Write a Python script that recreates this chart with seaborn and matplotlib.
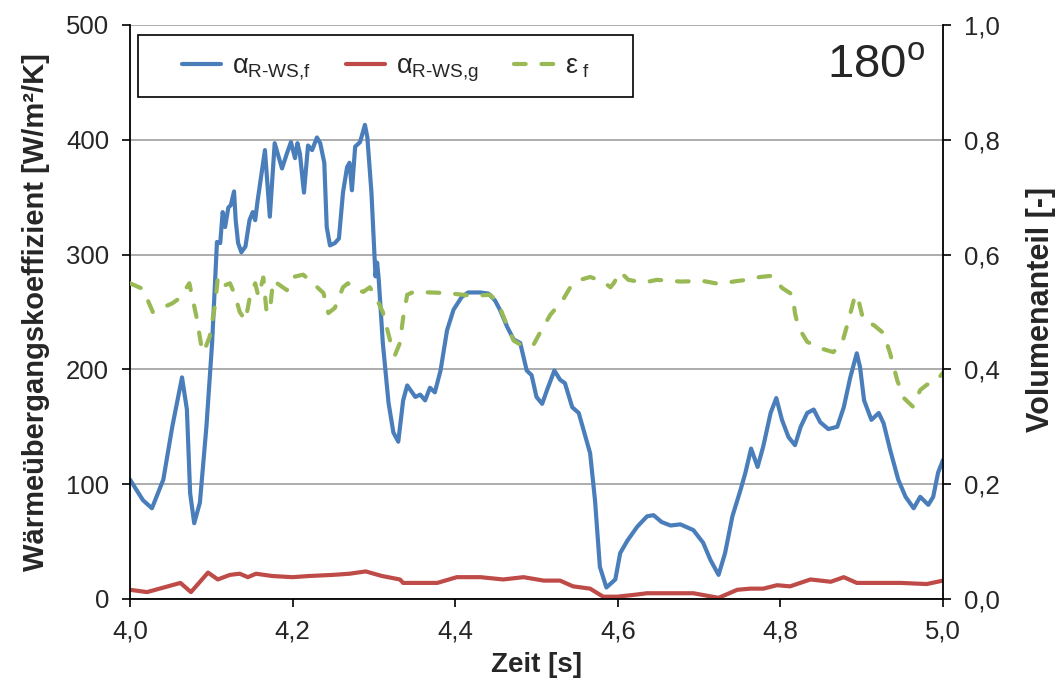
import matplotlib
matplotlib.use("Agg")
import matplotlib.pyplot as plt
from matplotlib.patches import Rectangle
from matplotlib.lines import Line2D
import seaborn as sns
import numpy as np
import pandas as pd

# alpha_R-WS,f  (left axis, W/m2/K)
t_f = [4.000, 4.016, 4.027, 4.041, 4.052, 4.064, 4.070, 4.074, 4.079, 4.086,
       4.094, 4.101, 4.106, 4.107, 4.111, 4.114, 4.117, 4.121, 4.124, 4.128,
       4.130, 4.133, 4.137, 4.142, 4.147, 4.151, 4.154, 4.157, 4.166, 4.172,
       4.178, 4.187, 4.193, 4.198, 4.203, 4.206, 4.209, 4.214, 4.219, 4.224,
       4.230, 4.234, 4.239, 4.242, 4.246, 4.252, 4.257, 4.262, 4.267, 4.270,
       4.273, 4.277, 4.283, 4.289, 4.292, 4.297, 4.302, 4.304, 4.306, 4.311,
       4.318, 4.324, 4.330, 4.336, 4.341, 4.351, 4.357, 4.363, 4.369, 4.375,
       4.382, 4.390, 4.398, 4.408, 4.416, 4.431, 4.441, 4.449, 4.455, 4.464,
       4.472, 4.480, 4.488, 4.494, 4.500, 4.507, 4.513, 4.522, 4.529, 4.535,
       4.544, 4.552, 4.558, 4.566, 4.572, 4.578, 4.586, 4.597, 4.603, 4.612,
       4.624, 4.636, 4.644, 4.654, 4.665, 4.677, 4.693, 4.705, 4.714, 4.724,
       4.732, 4.741, 4.751, 4.757, 4.764, 4.772, 4.779, 4.788, 4.795, 4.802,
       4.810, 4.818, 4.825, 4.833, 4.841, 4.849, 4.859, 4.870, 4.878, 4.886,
       4.894, 4.898, 4.903, 4.912, 4.921, 4.927, 4.935, 4.945, 4.954, 4.964,
       4.972, 4.982, 4.988, 4.994, 5.000]
alpha_f = [104, 86, 79, 104, 150, 193, 165, 92, 66, 84,
           150, 223, 295, 311, 310, 337, 324, 341, 343, 355,
           330, 310, 302, 307, 330, 337, 330, 347, 391, 333,
           397, 375, 388, 398, 384, 397, 388, 354, 395, 391,
           402, 397, 380, 324, 308, 310, 314, 354, 376, 380,
           356, 394, 398, 413, 402, 354, 281, 293, 278, 223,
           171, 145, 137, 173, 186, 176, 178, 173, 184, 180,
           199, 234, 252, 263, 267, 267, 266, 260, 252, 237,
           226, 223, 199, 195, 176, 170, 182, 199, 191, 188,
           167, 162, 147, 127, 86, 28, 10, 17, 40, 51,
           63, 72, 73, 67, 64, 65, 60, 49, 34, 21,
           40, 72, 95, 110, 131, 115, 133, 162, 175, 156,
           141, 134, 150, 162, 165, 154, 148, 150, 167, 193,
           214, 202, 173, 156, 162, 153, 130, 104, 89, 79,
           89, 82, 89, 110, 121]

# alpha_R-WS,g  (left axis, W/m2/K)
t_g = [4.000, 4.021, 4.062, 4.075, 4.096, 4.108, 4.123, 4.135, 4.145, 4.155,
       4.175, 4.200, 4.220, 4.250, 4.270, 4.290, 4.310, 4.332, 4.336, 4.361,
       4.378, 4.402, 4.431, 4.459, 4.484, 4.509, 4.529, 4.545, 4.566, 4.582,
       4.599, 4.619, 4.636, 4.677, 4.693, 4.724, 4.747, 4.763, 4.779, 4.796,
       4.812, 4.837, 4.862, 4.878, 4.894, 4.919, 4.948, 4.980, 5.000]
alpha_g = [8, 6, 14, 6, 23, 17, 21, 22, 19, 22,
           20, 19, 20, 21, 22, 24, 20, 17, 14, 14,
           14, 19, 19, 17, 19, 16, 16, 11, 9, 2,
           2, 3.5, 5, 5, 5, 1, 8, 9, 9, 12,
           11, 17, 15, 19, 14, 14, 14, 13, 16]

# epsilon_f  (right axis, -)
t_eps = [4.000, 4.016, 4.028, 4.052, 4.061, 4.073, 4.082, 4.089, 4.092, 4.098,
         4.105, 4.108, 4.114, 4.123, 4.129, 4.135, 4.142, 4.148, 4.154, 4.158,
         4.164, 4.168, 4.172, 4.176, 4.193, 4.201, 4.213, 4.225, 4.238, 4.244,
         4.252, 4.262, 4.268, 4.279, 4.287, 4.295, 4.302, 4.311, 4.320, 4.326,
         4.332, 4.336, 4.341, 4.349, 4.390, 4.422, 4.443, 4.453, 4.462, 4.472,
         4.484, 4.496, 4.504, 4.517, 4.532, 4.542, 4.554, 4.566, 4.582, 4.591,
         4.595, 4.603, 4.613, 4.632, 4.648, 4.677, 4.705, 4.724, 4.747, 4.759,
         4.775, 4.790, 4.802, 4.815, 4.818, 4.822, 4.833, 4.849, 4.865, 4.876,
         4.884, 4.892, 4.896, 4.902, 4.915, 4.927, 4.935, 4.944, 4.952, 4.963,
         4.972, 4.980, 4.993, 5.000]
eps_f = [0.550, 0.540, 0.500, 0.515, 0.524, 0.550, 0.490, 0.430, 0.435, 0.457,
         0.515, 0.560, 0.545, 0.550, 0.530, 0.500, 0.485, 0.530, 0.550, 0.527,
         0.560, 0.500, 0.500, 0.555, 0.538, 0.561, 0.565, 0.550, 0.533, 0.498,
         0.507, 0.543, 0.550, 0.538, 0.535, 0.543, 0.527, 0.500, 0.450, 0.425,
         0.446, 0.490, 0.530, 0.535, 0.533, 0.528, 0.530, 0.515, 0.483, 0.450,
         0.440, 0.442, 0.463, 0.495, 0.520, 0.544, 0.556, 0.561, 0.553, 0.543,
         0.550, 0.570, 0.556, 0.551, 0.556, 0.553, 0.554, 0.549, 0.554, 0.556,
         0.561, 0.563, 0.542, 0.530, 0.498, 0.474, 0.448, 0.437, 0.430, 0.446,
         0.486, 0.530, 0.521, 0.486, 0.477, 0.463, 0.428, 0.380, 0.350, 0.335,
         0.364, 0.373, 0.382, 0.394]

x_ticks = [4.0, 4.2, 4.4, 4.6, 4.8, 5.0]
x_tick_labels = ["4,0", "4,2", "4,4", "4,6", "4,8", "5,0"]
y_ticks = [0, 100, 200, 300, 400, 500]
y2_ticks = [0.0, 0.2, 0.4, 0.6, 0.8, 1.0]
y2_tick_labels = ["0,0", "0,2", "0,4", "0,6", "0,8", "1,0"]

labels = ["α$_{\\mathregular{R\u2010WS{,}f}}$",
          "α$_{\\mathregular{R\u2010WS{,}g}}$",
          "ε$_{\\mathregular{\\ f}}$"]
colors = ["#4A7EBB", "#BE4B48", "#98B954"]

sns.set_theme(style="ticks")
plt.rcParams['font.family'] = ['Liberation Sans', 'DejaVu Sans']
plt.rcParams['mathtext.fontset'] = 'custom'
plt.rcParams['mathtext.rm'] = 'Liberation Sans'
plt.rcParams['mathtext.it'] = 'Liberation Sans:italic'
plt.rcParams['mathtext.bf'] = 'Liberation Sans:bold'

TICK_FS = 18.5
dash = (0, (2.8, 3.8))

df_f = pd.DataFrame({'t': t_f, 'v': alpha_f})
df_g = pd.DataFrame({'t': t_g, 'v': alpha_g})
df_e = pd.DataFrame({'t': t_eps, 'v': eps_f})

fig = plt.figure(figsize=(10.62, 6.84), dpi=100)
ax = fig.add_axes([0.1224, 0.1243, 0.7655, 0.8392])
ax2 = ax.twinx()

ax.yaxis.grid(True, color='#a6a6a6', linewidth=1.3)
ax.set_axisbelow(True)

sns.lineplot(data=df_f, x='t', y='v', ax=ax, color=colors[0], linewidth=3,
             estimator=None, sort=False, solid_capstyle='round', solid_joinstyle='round')
sns.lineplot(data=df_g, x='t', y='v', ax=ax, color=colors[1], linewidth=3,
             estimator=None, sort=False, solid_capstyle='round', solid_joinstyle='round')
sns.lineplot(data=df_e, x='t', y='v', ax=ax2, color=colors[2], linewidth=3,
             estimator=None, sort=False, linestyle=dash,
             dash_capstyle='round', dash_joinstyle='round')

ax.set_xlim(4.0, 5.0)
ax.set_ylim(0, 500)
ax2.set_ylim(0, 1.0)
ax.set_xticks(x_ticks)
ax.set_xticklabels(x_tick_labels)
ax.set_yticks(y_ticks)
ax2.set_yticks(y2_ticks)
ax2.set_yticklabels(y2_tick_labels)

for a in (ax, ax2):
    a.tick_params(labelsize=TICK_FS, length=6, width=1.2, color='black', pad=9, direction='out')
    a.spines['top'].set_visible(False)
    for s in ('left', 'right', 'bottom'):
        a.spines[s].set_color('black')
        a.spines[s].set_linewidth(1.3)
ax.spines['right'].set_visible(False)
ax2.spines['left'].set_visible(False)
ax2.spines['bottom'].set_visible(False)

ax.set_xlabel('Zeit [s]', fontsize=20, fontweight='bold', labelpad=6)
ax.set_ylabel('Wärmeübergangskoeffizient [W/m²/K]', fontsize=21, fontweight='bold')
ax.yaxis.set_label_coords(-0.099, 0.5)
ax2.set_ylabel('Volumenanteil [-]', fontsize=22, fontweight='bold')
ax2.yaxis.set_label_coords(1.102, 0.505)

ax2.text(0.978, 0.968, '180$^{\\mathregular{o}}$', transform=ax2.transAxes,
         ha='right', va='top', fontsize=34)

# legend box
ax2.add_patch(Rectangle((0.0098, 0.8746), 0.6089, 0.108, transform=ax2.transAxes,
                        facecolor='white', edgecolor='black', linewidth=1.2, zorder=5))
handles = [Line2D([], [], color=colors[0], linewidth=3, solid_capstyle='round'),
           Line2D([], [], color=colors[1], linewidth=3, solid_capstyle='round'),
           Line2D([], [], color=colors[2], linewidth=3, linestyle=dash,
                  dash_capstyle='round')]
leg = ax2.legend(handles, labels, loc='center', bbox_to_anchor=(0.3143, 0.924),
                 ncol=3, frameon=False, fontsize=19.5, handlelength=1.45,
                 handletextpad=0.4, columnspacing=1.3)
leg.set_zorder(6)

fig.savefig('out.png', dpi=100)
